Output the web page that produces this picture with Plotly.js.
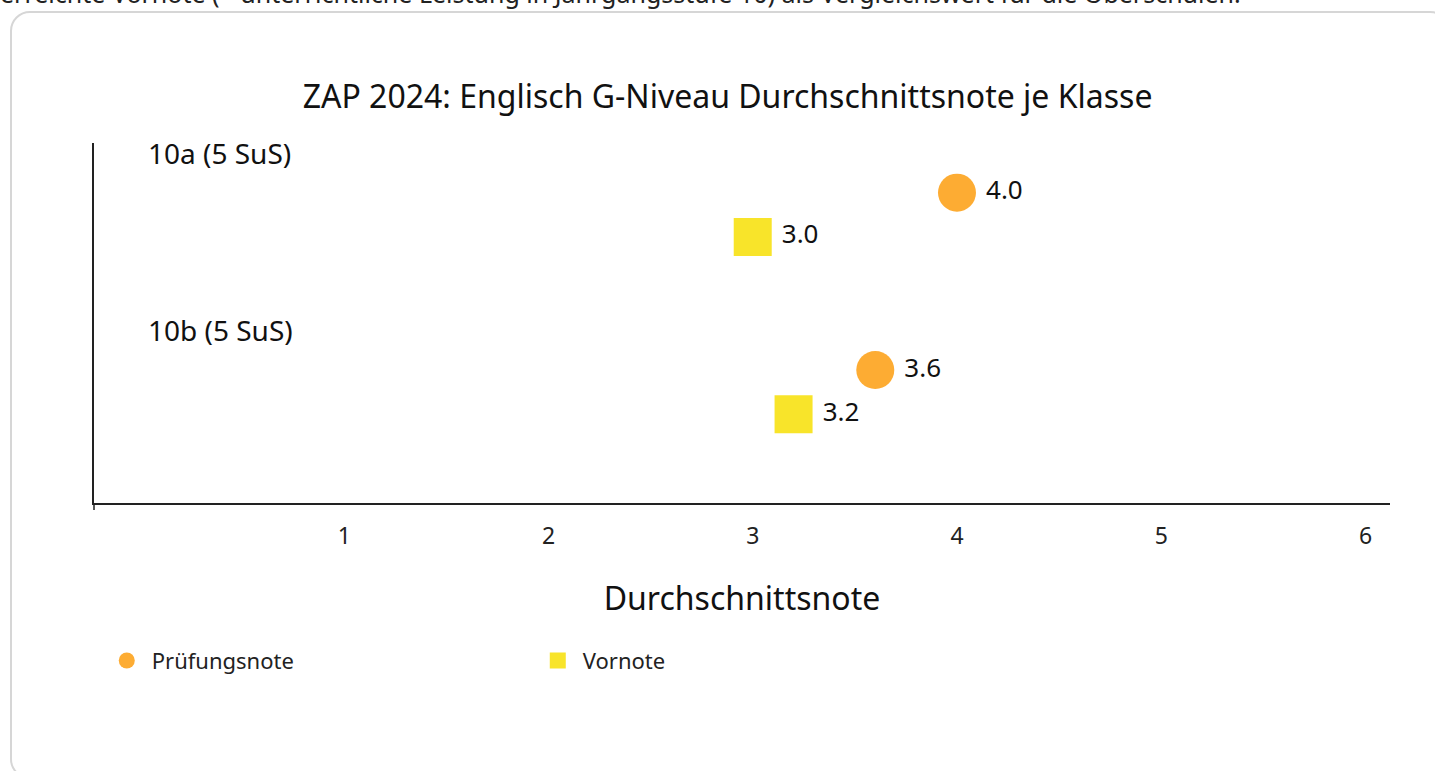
<!DOCTYPE html>
<html>
<head>
<meta charset="utf-8">
<script src="https://cdn.plot.ly/plotly-3.0.1.min.js"></script>
<style>
  html, body { margin: 0; padding: 0; width: 1435px; height: 771px; overflow: hidden; background: #fff; }
  #intro { position: absolute; left: 0; top: -21px; line-height: 28px; font-family: "Noto Sans", sans-serif; font-size: 25px; color: #222; white-space: nowrap; }
  #card { position: absolute; left: 10px; top: 11px; width: 1440px; height: 768px; border: 2px solid #d6d6d6; border-radius: 20px; box-sizing: border-box; }
  #chart { position: absolute; left: 0; top: 0; width: 1435px; height: 771px; }
</style>
</head>
<body>
<div id="intro">erreichte Vornote (= unterrichtliche Leistung in Jahrgangsstufe 10) als Vergleichswert für die Oberschulen.</div>
<div id="card"></div>
<div id="chart"></div>
<script>
const classes = ["10a (5 SuS)", "10b (5 SuS)"];
const pruefungsnote = [4.0, 3.6];
const vornote = [3.0, 3.2];
const seriesNames = ["Prüfungsnote", "Vornote"];
const xTicks = [1, 2, 3, 4, 5, 6];

const FONT = "Noto Sans, sans-serif";
const rowsPerClass = 4;
const yLabel = classes.map((c, i) => i * rowsPerClass + 0.1);
const yP = classes.map((c, i) => i * rowsPerClass + 1);
const yV = classes.map((c, i) => i * rowsPerClass + 2);

const traces = [
  {
    type: "scatter", mode: "markers+text", name: seriesNames[0],
    x: pruefungsnote, y: yP,
    text: pruefungsnote.map(v => "\u2009" + v.toFixed(1)), textposition: "middle right",
    textfont: { family: FONT, size: 26, color: "#111" },
    marker: { symbol: "circle", size: 38, color: "#FDAC33" },
    hoverinfo: "x"
  },
  {
    type: "scatter", mode: "markers+text", name: seriesNames[1],
    x: vornote, y: yV,
    text: vornote.map(v => "\u2009" + v.toFixed(1)), textposition: "middle right",
    textfont: { family: FONT, size: 26, color: "#111" },
    marker: { symbol: "square", size: 38, color: "#F8E42A" },
    hoverinfo: "x"
  }
];

const annotations = classes.map((c, i) => ({
  text: c, xref: "paper", x: 0.0405, xanchor: "left",
  yref: "y", y: yLabel[i], yanchor: "middle",
  showarrow: false, font: { family: FONT, size: 28, color: "#111" }
}));

const layout = {
  width: 1435, height: 771,
  paper_bgcolor: "rgba(0,0,0,0)", plot_bgcolor: "rgba(0,0,0,0)",
  margin: { l: 94, r: 45, t: 143, b: 268 },
  font: { family: FONT, color: "#222" },
  title: { text: "ZAP 2024: Englisch G-Niveau Durchschnittsnote je Klasse", x: 0.507, xanchor: "center", yref: "container", y: 1 - 97 / 771, yanchor: "middle", font: { family: FONT, size: 32, color: "#111" } },
  xaxis: {
    range: [-0.225, 6.12], tickvals: xTicks, ticktext: xTicks.map(String),
    showgrid: false, zeroline: false, showline: true, linecolor: "#222", linewidth: 2,
    ticks: "", ticklabelstandoff: 11, tickfont: { family: FONT, size: 23, color: "#222" },
    title: { text: "Durchschnittsnote", standoff: 38, font: { family: FONT, size: 32, color: "#111" } }
  },
  yaxis: {
    range: [8, -0.12], showgrid: false, zeroline: false, showticklabels: false,
    showline: true, linecolor: "#222", linewidth: 1.5, ticks: ""
  },
  shapes: [
    { type: "line", xref: "paper", yref: "paper", x0: 0, x1: 0, y0: 0, y1: -7 / 360, line: { color: "#222", width: 1.5 } }
  ],
  annotations: annotations,
  showlegend: true,
  legend: {
    orientation: "h", x: 0.006, xanchor: "left", xref: "paper", y: -0.438, yanchor: "middle",
    entrywidth: 376, entrywidthmode: "pixels", itemwidth: 40,
    font: { family: FONT, size: 22, color: "#222" }, itemsizing: "trace"
  }
};

Plotly.newPlot("chart", traces, layout, { displayModeBar: false, responsive: false });
</script>
</body>
</html>
